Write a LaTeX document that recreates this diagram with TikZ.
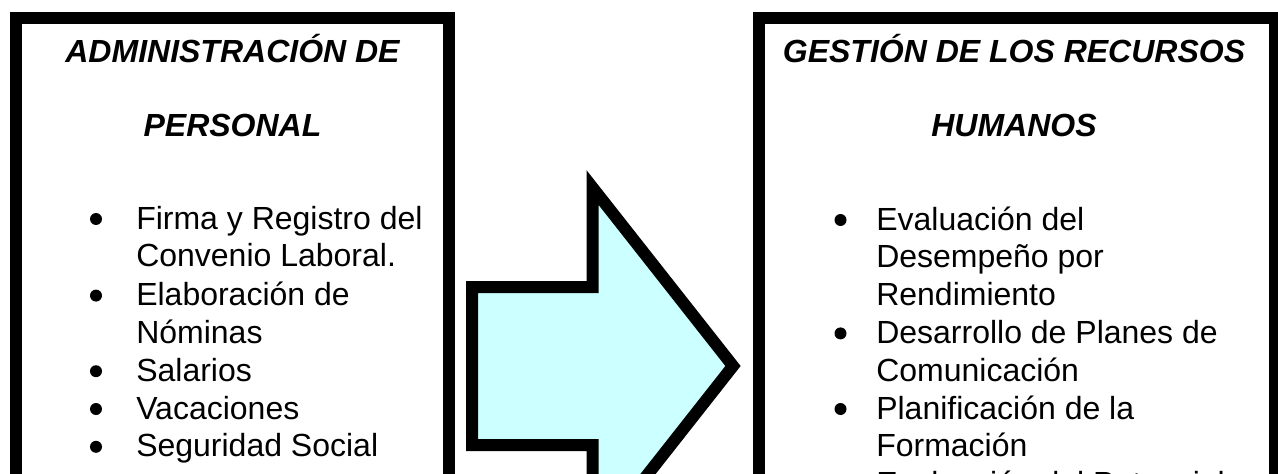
\documentclass[tikz,border=0pt]{standalone}
\usepackage{fontspec}
\setmainfont{Liberation Sans}
\usetikzlibrary{calc}
\definecolor{arrowfill}{HTML}{CCFFFF}
\tikzset{
  frame/.style={draw=black, line width=9pt, rectangle, anchor=north west, inner sep=0pt, outer sep=0pt},
  titletext/.style={anchor=base, align=center, inner sep=0pt, font=\fontsize{24}{55.5}\selectfont\bfseries\itshape},
  itemtext/.style={anchor=base west, align=left, inner sep=0pt, font=\fontsize{24}{28.35}\selectfont},
  bulletdot/.style={circle, fill=black, inner sep=0pt, minimum size=9pt},
  bigarrow/.style={draw=black, fill=arrowfill, line width=9pt, miter limit=10, line join=miter}
}
\begin{document}
\begin{tikzpicture}[x=0.75pt,y=-0.75pt]
\useasboundingbox (0,0) rectangle (1278,474);
\clip (0,0) rectangle (1278,474);
\fill[white] (0,0) rectangle (1278,474);

% frames
\node[frame, minimum width=324.75pt, minimum height=436.5pt] (leftbox) at (16,18) {};
\node[frame, minimum width=387pt, minimum height=436.5pt] (rightbox) at (759,18) {};

% arrow
\draw[bigarrow] (472,287) -- (592.5,287) -- (592.5,187.5) -- (733,366)
  -- (592.5,544.5) -- (592.5,445) -- (472,445) -- cycle;

% titles (node base = baseline of last line)
\node[titletext] (lefttitle) at (232.5,137) {ADMINISTRACIÓN DE\\PERSONAL};
\node[titletext] (righttitle) at (1014,137) {GESTIÓN DE LOS RECURSOS\\HUMANOS};

% left list (node base = baseline of last line)
\node[itemtext] (l1) at (136,266.8) {Firma y Registro del\\Convenio Laboral.};
\node[itemtext] (l2) at (136,343.4) {Elaboración de\\Nóminas};
\node[itemtext] (l3) at (136,381.2) {Salarios};
\node[itemtext] (l4) at (136,419) {Vacaciones};
\node[itemtext] (l5) at (136,456.8) {Seguridad Social};
\node[bulletdot] (bl1) at ($(l1.base west)+(-40,-47.8)$) {};
\node[bulletdot] (bl2) at ($(l2.base west)+(-40,-47.8)$) {};
\node[bulletdot] (bl3) at ($(l3.base west)+(-40,-10)$) {};
\node[bulletdot] (bl4) at ($(l4.base west)+(-40,-10)$) {};
\node[bulletdot] (bl5) at ($(l5.base west)+(-40,-10)$) {};

% right list
\node[itemtext] (r1) at (876,305.6) {Evaluación del\\Desempeño por\\Rendimiento};
\node[itemtext] (r2) at (876,381.2) {Desarrollo de Planes de\\Comunicación};
\node[itemtext] (r3) at (876,456.8) {Planificación de la\\Formación};
\node[itemtext] (r4) at (876,494.6) {Evaluación del Potencial};
\node[bulletdot] (br1) at ($(r1.base west)+(-35.5,-85.6)$) {};
\node[bulletdot] (br2) at ($(r2.base west)+(-35.5,-47.8)$) {};
\node[bulletdot] (br3) at ($(r3.base west)+(-35.5,-47.8)$) {};
\node[bulletdot] (br4) at ($(r4.base west)+(-35.5,-10)$) {};
\end{tikzpicture}
\end{document}
